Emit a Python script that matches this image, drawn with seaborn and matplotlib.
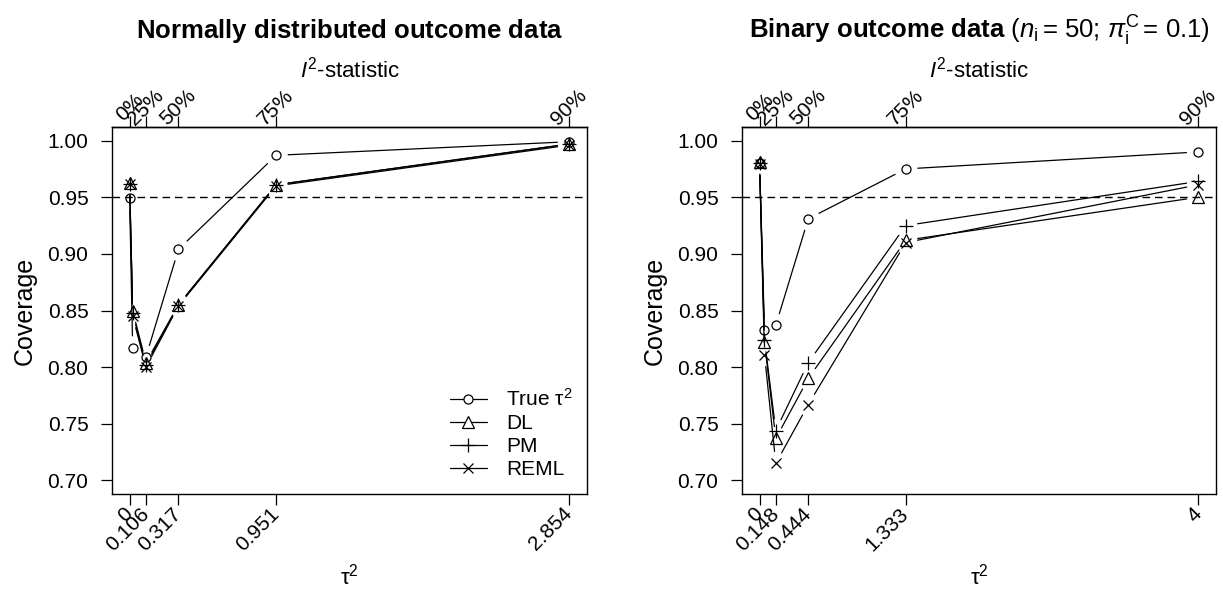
import numpy as np
import seaborn as sns
import matplotlib.pyplot as plt
from matplotlib.lines import Line2D

# normally distributed outcome data
tau2_norm = [0, 0.02, 0.106, 0.317, 0.951, 2.854]
tau2_norm_ticks = [0, 0.106, 0.317, 0.951, 2.854]
tau2_norm_labels = ["0", "0.106", "0.317", "0.951", "2.854"]
true_norm = [0.949, 0.817, 0.809, 0.904, 0.987, 0.999]
dl_norm = [0.963, 0.850, 0.804, 0.855, 0.961, 0.997]
pm_norm = [0.962, 0.848, 0.802, 0.855, 0.961, 0.997]
reml_norm = [0.962, 0.845, 0.800, 0.854, 0.960, 0.996]

# binary outcome data
tau2_bin = [0, 0.045, 0.148, 0.444, 1.333, 4]
tau2_bin_ticks = [0, 0.148, 0.444, 1.333, 4]
tau2_bin_labels = ["0", "0.148", "0.444", "1.333", "4"]
true_bin = [0.980, 0.833, 0.837, 0.931, 0.975, 0.990]
dl_bin = [0.981, 0.822, 0.737, 0.790, 0.912, 0.950]
pm_bin = [0.980, 0.824, 0.744, 0.804, 0.925, 0.964]
reml_bin = [0.979, 0.811, 0.715, 0.767, 0.910, 0.961]

i2_labels = ["0%", "25%", "50%", "75%", "90%"]
y_ticks = [0.70, 0.75, 0.80, 0.85, 0.90, 0.95, 1.00]
methods = ["True", "DL", "PM", "REML"]
legend_labels = ["True \u03c4$^2$", "DL", "PM", "REML"]

sns.set_theme(style="ticks")
plt.rcParams["font.family"] = ["Liberation Sans", "DejaVu Sans"]
plt.rcParams["mathtext.fontset"] = "custom"
plt.rcParams["mathtext.rm"] = "Liberation Sans"
plt.rcParams["mathtext.it"] = "Liberation Sans:italic"
plt.rcParams["mathtext.bf"] = "Liberation Sans:bold"
for key in ["text.color", "axes.labelcolor", "xtick.color", "ytick.color",
            "axes.edgecolor"]:
    plt.rcParams[key] = "black"

marker_style = {
    "True": dict(marker="o", ms=6.5),
    "DL": dict(marker="^", ms=8),
    "PM": dict(marker="+", ms=10),
    "REML": dict(marker="x", ms=7.5),
}


def draw_gapped(ax, x, y, gap=12.0):
    # like R type="b": line segments stop short of each point
    pts = ax.transData.transform(np.column_stack([x, y]))
    inv = ax.transData.inverted()
    for p0, p1 in zip(pts[:-1], pts[1:]):
        d = p1 - p0
        L = np.hypot(*d)
        if L <= 2 * gap:
            continue
        u = d / L
        seg = inv.transform(np.vstack([p0 + u * gap, p1 - u * gap]))
        sns.lineplot(x=seg[:, 0], y=seg[:, 1], ax=ax, color="black",
                     lw=0.9, sort=False, estimator=None)


def panel(ax, tau2, series, ticks, tick_labels):
    pad = 0.04 * max(tau2)
    ax.set_xlim(-pad, max(tau2) + pad)
    ax.set_ylim(0.688, 1.012)
    ax.axhline(0.95, color="black", lw=1.0, ls=(0, (5.5, 3.5)), zorder=1)
    for m in methods:
        draw_gapped(ax, tau2, series[m])
        ax.plot(tau2, series[m], ls="none", color="black", mfc="none",
                mew=0.9, zorder=3, **marker_style[m])
    ax.set_yticks(y_ticks)
    ax.set_yticklabels([f"{v:.2f}" for v in y_ticks])
    ax.set_xticks(ticks)
    ax.set_xticklabels(tick_labels, rotation=45, ha="right", va="center",
                       rotation_mode="anchor")
    ax.tick_params(direction="out", length=8, width=0.9, labelsize=15,
                   color="black", pad=4)
    ax.tick_params(axis="y", pad=9)
    ax.set_ylabel("Coverage", fontsize=18, labelpad=8)
    top = ax.secondary_xaxis("top")
    top.set_xticks(ticks)
    top.set_xticklabels(i2_labels, rotation=45, ha="center", va="center",
                        rotation_mode="anchor")
    top.tick_params(direction="out", length=8, width=0.9, labelsize=15,
                    pad=6, color="black")
    for sp in list(ax.spines.values()) + [top.spines["top"]]:
        sp.set_color("black")
        sp.set_linewidth(1.0)
    for sp in ["top", "right"]:
        ax.spines[sp].set_visible(True)


fig = plt.figure(figsize=(12.23, 5.93), dpi=100)
ax1 = fig.add_axes([112 / 1223, 1 - 494 / 593, 475 / 1223, 367 / 593])
ax2 = fig.add_axes([742 / 1223, 1 - 494 / 593, 474 / 1223, 367 / 593])

panel(ax1, tau2_norm,
      {"True": true_norm, "DL": dl_norm, "PM": pm_norm, "REML": reml_norm},
      tau2_norm_ticks, tau2_norm_labels)
panel(ax2, tau2_bin,
      {"True": true_bin, "DL": dl_bin, "PM": pm_bin, "REML": reml_bin},
      tau2_bin_ticks, tau2_bin_labels)

handles = []
for m in methods:
    handles.append(Line2D([0], [0], color="black", lw=0.9, mfc="white",
                          mew=0.9, **marker_style[m]))
ax1.legend(handles, legend_labels, loc="lower right", frameon=False,
           fontsize=15, handlelength=1.8, handletextpad=0.9,
           labelspacing=0.2, borderaxespad=0.3)

titles = [r"$\mathbf{Normally\ distributed\ outcome\ data}$",
          r"$\mathbf{Binary\ outcome\ data}$ ($\mathit{n}_\mathrm{i}\,$= 50; "
          r"$\pi_\mathrm{i}^\mathrm{C}\,$= 0.1)"]
for ax, title in zip([ax1, ax2], titles):
    pos = ax.get_position()
    xc = (pos.x0 + pos.x1) / 2
    fig.text(xc, 1 - 31 / 593, title, ha="center", va="center", fontsize=18.5)
    fig.text(xc, 1 - 70 / 593, r"$\mathit{I}^2$-statistic", ha="center",
             va="center", fontsize=16)
    fig.text(xc, 1 - 577 / 593, "\u03c4$^2$", ha="center", va="center",
             fontsize=16)

fig.savefig("out.png", dpi=100)
